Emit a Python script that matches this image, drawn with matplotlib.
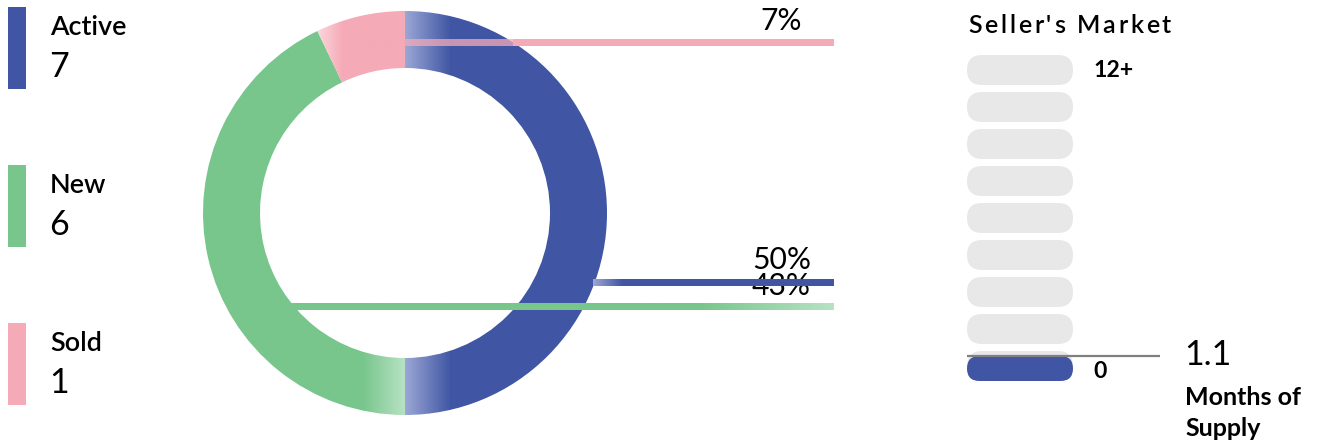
import numpy as np
import matplotlib
matplotlib.use("Agg")
import matplotlib.pyplot as plt
from matplotlib.patches import Wedge, Rectangle, FancyBboxPatch
from matplotlib.colors import to_rgb

# ---------------- data ----------------
categories = ["Active", "New", "Sold"]
counts = [7, 6, 1]
pct_labels = ["50%", "43%", "7%"]
months_of_supply = 1.1
scale_max = 12
scale_top_label = "12+"
scale_bottom_label = "0"
n_pills = 9
gauge_title = "Seller's Market"
mos_caption = ["Months of", "Supply"]

# ---------------- style ----------------
W, H = 1318, 447
FONT = "Lato"
colors = ["#4056a4", "#78c68c", "#f5aab7"]
light_colors = ["#9ca7d5", "#b7e2c4", "#fbd7dd"]
pill_grey = "#e8e8e8"

fig = plt.figure(figsize=(W / 100, H / 100), dpi=100)
ax = fig.add_axes([0, 0, 1, 1])
ax.axis("off")


def px(p):
    return p * 0.72


def hgrad(x0, x1, y0, y1, x_light, x_full, c_light, c_full, clip=None, alpha=1.0, z=2):
    xs = np.linspace(x0, x1, 600)
    t = np.clip((xs - x_light) / (x_full - x_light), 0, 1)[:, None]
    cl, cf = np.array(to_rgb(c_light)), np.array(to_rgb(c_full))
    cols = cl * (1 - t) + cf * t
    rgba = np.concatenate([cols, np.full((len(xs), 1), alpha)], axis=1)[None, :, :]
    im = ax.imshow(rgba, extent=(x0, x1, y1, y0), aspect="auto",
                   interpolation="bilinear", zorder=z)
    if clip is not None:
        ax.add_patch(clip)
        clip.set_visible(False)
        im.set_clip_path(clip)
    return im

# ---------------- legend ----------------
leg_top = 7
leg_step = 158
for i, (cat, n) in enumerate(zip(categories, counts)):
    y0 = leg_top + i * leg_step
    ax.add_patch(Rectangle((8, y0), 18, 82, color=colors[i], lw=0))
    ax.text(50, y0 + 28, cat, fontsize=px(27), family=FONT, weight="semibold",
            va="baseline", ha="left", color="black")
    ax.text(49, y0 + 70, str(n), fontsize=px(34), family=FONT, weight="normal",
            va="baseline", ha="left", color="black")

# ---------------- donut ----------------
cx, cy = 405, 213
r_out, r_in = 202, 145
total = sum(counts)
fracs = [c / total for c in counts]
start = -90.0
grad_spec = [  # (x_light, x_full) horizontal gradient per segment
    (cx, cx + 46),
    (cx, cx - 42),
    (cx - 88, cx - 62),
]
for i, f in enumerate(fracs):
    th1, th2 = start, start + f * 360
    wedge = Wedge((cx, cy), r_out, th1, th2, width=r_out - r_in,
                  transform=ax.transData)
    xl, xf = grad_spec[i]
    hgrad(cx - r_out - 2, cx + r_out + 2, cy - r_out - 2, cy + r_out + 2,
          xl, xf, light_colors[i], colors[i], clip=wedge, z=2)
    start = th2

# ---------------- leader lines & percentages ----------------
line_end = 834
lh = 7
# Active (blue)
y_a = 282.5
hgrad(593, line_end, y_a - lh / 2, y_a + lh / 2, 593, 622, light_colors[0], colors[0], z=4)
# New (green)
y_n = 307
hgrad(290, line_end, y_n - lh / 2, y_n + lh / 2, line_end, 700, light_colors[1], colors[1], z=4)
# Sold (pink): translucent over the ring, solid beyond it
y_s = 42
x_edge = cx + np.sqrt(r_out ** 2 - (cy - y_s) ** 2)
ax.add_patch(Rectangle((cx, y_s - lh / 2), x_edge - cx, lh, color=colors[2],
                       alpha=0.75, lw=0, zorder=4))
ax.add_patch(Rectangle((x_edge, y_s - lh / 2), line_end - x_edge, lh, color=colors[2],
                       lw=0, zorder=4))

pct_pos = [(811, 269), (811, 295), (802, 30)]
for lab, (x, y) in zip(pct_labels, pct_pos):
    ax.text(x, y, lab, fontsize=px(30), family=FONT, weight="normal",
            ha="right", va="baseline", zorder=3)

# ---------------- gauge ----------------
px0, pw, ph = 967, 106, 30
p_top0, p_step = 55, 37
for k in range(n_pills):
    yt = p_top0 + k * p_step
    ax.add_patch(FancyBboxPatch((px0, yt), pw, ph,
                                boxstyle=f"round,pad=0,rounding_size={ph/2}",
                                fc=pill_grey, ec="none", zorder=2))
filled = int(np.ceil(months_of_supply / (scale_max / n_pills)))
bottom = p_top0 + (n_pills - 1) * p_step + ph
for k in range(filled):
    yb = bottom - k * p_step
    ax.add_patch(FancyBboxPatch((px0, yb - 25), pw, 25,
                                boxstyle="round,pad=0,rounding_size=12.5",
                                fc=colors[0], ec="none", zorder=3))
level_y = bottom - 25 - (filled - 1) * p_step
ax.plot([px0, 1160], [level_y, level_y], color="#808080", lw=1.6, zorder=4,
        solid_capstyle="butt")

ax.text(1093, 77, scale_top_label, fontsize=px(23), family=FONT, weight="bold",
        ha="left", va="baseline")
ax.text(1093, 378, scale_bottom_label, fontsize=px(23), family=FONT, weight="bold",
        ha="left", va="baseline")
ax.text(1184, 365, f"{months_of_supply}", fontsize=px(34), family=FONT,
        weight="normal", ha="left", va="baseline")
for j, line in enumerate(mos_caption):
    ax.text(1185, 405 + j * 31, line, fontsize=px(25), family=FONT, weight="bold",
            ha="left", va="baseline")

# letter-spaced title
ax.set_xlim(0, W)
ax.set_ylim(H, 0)
renderer = fig.canvas.get_renderer()


def spaced_text(x, y, s, target_w, **kw):
    def w(t):
        tt = ax.text(0, 0, t, **kw)
        e = tt.get_window_extent(renderer).width
        tt.remove()
        return e
    bar = w("|")
    natural = w(s)
    gap = (target_w - natural) / (len(s) - 1)
    for i, ch in enumerate(s):
        off = w(s[:i] + "|") - bar if i > 0 else 0
        ax.text(x + off + i * gap, y, ch, ha="left", va="baseline", **kw)


spaced_text(968, 33, gauge_title, 203, fontsize=px(25), family=FONT, weight="semibold")

ax.set_xlim(0, W)
ax.set_ylim(H, 0)
fig.savefig("out.png", dpi=100)
